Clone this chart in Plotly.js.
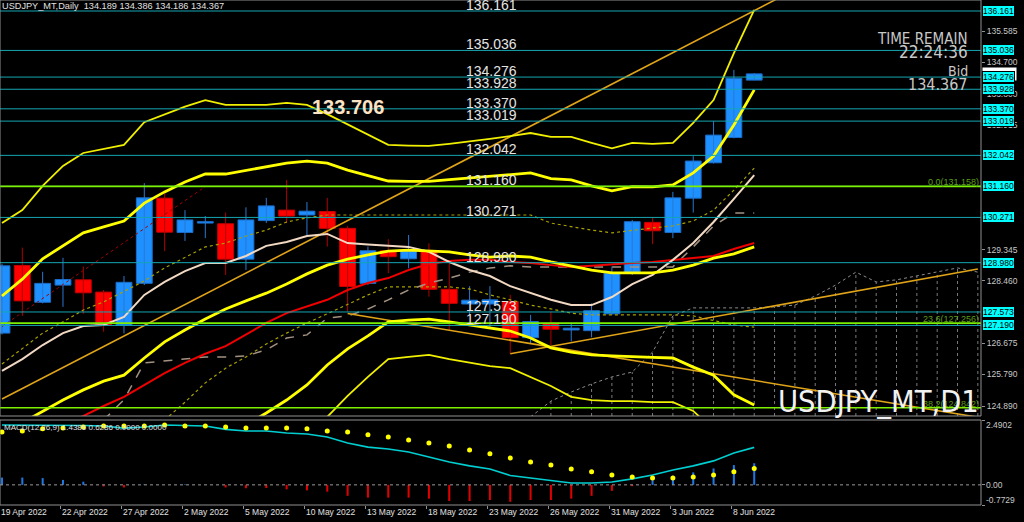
<!DOCTYPE html>
<html><head><meta charset="utf-8">
<script src="https://cdn.plot.ly/plotly-3.0.1.min.js"></script>
<style>html,body{margin:0;padding:0;background:#000;overflow:hidden}#chart{width:1024px;height:522px}</style>
</head><body><div id="chart"></div>
<script>
// ---------- DATA ----------
const days = ['19 Apr','20 Apr','21 Apr','22 Apr','25 Apr','26 Apr','27 Apr','28 Apr','29 Apr',
 '2 May','3 May','4 May','5 May','6 May','9 May','10 May','11 May','12 May','13 May','16 May','17 May',
 '18 May','19 May','20 May','23 May','24 May','25 May','26 May','27 May','30 May','31 May',
 '1 Jun','2 Jun','3 Jun','6 Jun','7 Jun','8 Jun','9 Jun'];
const futureDays = ['10 Jun','13 Jun','14 Jun','15 Jun','16 Jun','17 Jun','20 Jun','21 Jun','22 Jun','23 Jun','24 Jun'];

const open  = [126.97,128.90,127.85,128.34,128.49,128.14,127.20,128.39,130.82,129.84,130.11,130.09,129.08,130.18,130.48,130.34,130.44,129.96,128.39,129.32,129.09,129.32,128.22,127.80,127.80,127.87,126.84,127.25,127.06,127.04,127.52,128.68,130.13,129.84,130.82,131.83,132.55,134.189];
const high  = [128.95,129.41,128.72,129.12,128.87,128.20,128.60,131.25,130.96,130.48,130.31,130.41,130.56,130.83,131.34,130.71,130.83,130.03,129.44,129.65,129.77,129.53,128.96,128.31,128.31,128.06,127.49,127.58,127.25,127.82,128.87,130.20,130.25,131.00,132.02,133.02,134.48,134.386];
const low   = [126.93,127.46,127.82,127.72,127.52,127.01,126.96,128.34,129.31,129.60,129.68,128.63,128.77,130.11,130.11,129.77,129.44,127.58,128.34,128.68,128.82,128.01,127.06,127.49,127.12,126.38,126.68,126.63,126.73,126.85,127.49,128.63,129.51,129.68,130.41,131.81,132.53,134.186];
const close = [128.89,127.89,128.39,128.50,128.12,127.20,128.42,130.83,129.85,130.20,130.15,129.08,130.20,130.60,130.31,130.45,129.96,128.30,129.32,129.15,129.32,128.22,127.82,127.91,127.92,126.84,127.30,127.08,127.11,127.61,128.68,130.15,129.89,130.83,131.88,132.62,134.24,134.367];

const bandUp2 = [130.11,130.48,131.17,131.74,132.11,132.22,132.34,132.99,133.22,133.43,133.62,133.48,133.48,133.48,133.54,133.48,133.22,132.93,132.62,132.34,132.32,132.31,132.37,132.43,132.51,132.59,132.68,132.57,132.57,132.40,132.24,132.40,132.37,132.40,132.97,133.62,134.96,136.19];
const bandUp1 = [128.03,128.51,129.09,129.46,129.83,130.00,130.17,130.68,131.00,131.28,131.51,131.51,131.62,131.72,131.82,131.88,131.82,131.62,131.47,131.31,131.30,131.30,131.35,131.40,131.45,131.51,131.54,131.38,131.34,131.17,131.03,131.15,131.14,131.20,131.54,132.02,132.91,133.91];
const bandMid = [124.09,124.41,124.72,125.06,125.35,125.60,125.77,126.26,126.72,127.06,127.37,127.66,127.89,128.11,128.37,128.66,128.91,129.08,129.20,129.31,129.34,129.31,129.29,129.20,129.14,129.17,129.14,129.00,128.89,128.77,128.69,128.69,128.69,128.77,128.91,129.11,129.23,129.43];
const bandDn1 = [null,null,null,null,null,null,null,null,null,null,null,null,124.35,124.69,125.06,125.49,126.06,126.52,126.89,127.29,127.34,127.37,127.29,127.20,127.12,127.03,126.83,126.55,126.43,126.35,126.32,126.29,126.28,126.26,126.00,125.77,125.21,124.92];
const bandDn2 = [null,null,null,null,null,null,null,null,null,null,null,null,null,null,null,123.98,124.58,125.18,125.72,126.23,126.29,126.35,126.23,126.12,126.03,125.97,125.72,125.46,125.15,125.06,125.03,125.03,125.00,125.00,124.75,124.21,123.78,123.49];

const wheatLine = [125.89,126.23,126.63,126.97,127.17,127.20,127.43,128.06,128.43,128.74,128.97,128.97,129.17,129.46,129.57,129.74,129.80,129.54,129.50,129.47,129.43,129.29,129.00,128.77,128.60,128.31,128.11,127.92,127.77,127.77,128.00,128.37,128.63,129.06,129.54,130.14,130.80,131.48];
const redLine = [null,null,null,124.32,124.61,124.89,125.15,125.49,125.83,126.12,126.38,126.60,126.92,127.26,127.54,127.74,127.92,128.20,128.40,128.54,128.77,128.94,129.03,129.06,129.06,129.00,128.97,128.91,128.86,128.89,128.94,128.97,129.00,129.06,129.11,129.17,129.37,129.54];
const dashLine = [null,null,null,null,null,124.49,125.07,126.12,126.18,126.24,126.29,126.29,126.32,126.49,126.83,126.92,127.40,127.46,127.66,127.92,128.20,128.40,128.54,128.71,128.83,128.89,128.86,128.86,128.86,128.86,128.86,128.86,128.86,128.86,129.43,130.03,130.40,130.40];
const dotUpper = [126.09,126.52,126.97,127.29,127.63,127.86,128.17,128.46,128.83,129.14,129.43,129.54,129.74,129.91,130.14,130.26,130.34,130.34,130.34,130.34,130.34,130.34,130.34,130.34,130.34,130.34,130.34,130.11,130.00,129.91,129.83,129.91,129.97,130.03,130.17,130.48,131.05,131.68];
const dotLower = [null,null,null,null,null,null,null,null,124.49,125.00,125.55,125.97,126.29,126.66,126.97,127.26,127.52,127.80,128.06,128.29,128.29,128.29,128.29,128.23,128.06,127.92,127.77,127.66,127.54,127.49,127.49,127.49,127.49,127.49,127.46,127.32,127.20,127.14];
// cloud edge projected into the future (all days incl. future)
const cloudEdge = [null,null,null,null,null,null,null,null,null,null,null,null,null,null,null,null,null,null,null,null,null,null,null,null,null,null,
 124.58,125.03,125.29,125.52,125.72,125.86,126.43,127.46,127.69,127.69,127.69,127.69,127.72,127.77,128.03,128.34,128.71,128.43,128.49,128.60,128.71,128.83,128.71];

// drawn trendlines: [day, price] end points
const trendUp   = [['19 Apr',125.09],['13 Jun',136.77]];
const trendDown = [['12 May',127.53],['24 Jun',124.57]];
const trendLow  = [['24 May',126.38],['24 Jun',128.80]];
const trendRed  = [['19 Apr',127.16],['3 May',131.15]];

const levels = [136.161,135.036,134.276,133.928,133.370,133.019,132.042,131.160,130.271,128.980,127.573,127.190];
const fibLevels = [131.158,127.256,124.842];
const fibNames = ['0.0','23.6','38.2'];
const axisTicks = [124.890,125.790,126.675,128.460,129.345,132.915,133.800,134.700,135.585];
const bidPrice = 134.367;
const peakLabel = {text:'133.706', day:'12 May', price:133.41};

const macdMain = [2.30,2.30,2.30,2.28,2.28,2.26,2.18,2.22,2.30,2.28,2.26,2.13,2.07,2.07,1.99,1.95,1.84,1.61,1.45,1.38,1.26,1.07,0.88,0.73,0.61,0.36,0.26,0.15,0.07,0.07,0.11,0.23,0.38,0.57,0.73,0.92,1.22,1.44];
const macdSignal = [2.03,2.07,2.15,2.18,2.22,2.26,2.26,2.26,2.30,2.26,2.26,2.22,2.18,2.18,2.18,2.15,2.07,2.03,1.92,1.84,1.72,1.61,1.49,1.34,1.19,1.03,0.88,0.76,0.61,0.50,0.38,0.30,0.26,0.26,0.30,0.38,0.50,0.63];
const macdHist = [0.28,0.28,0.26,0.19,0.12,-0.06,-0.10,0.02,0.00,0.02,0.00,-0.10,-0.13,-0.12,-0.17,-0.21,-0.26,-0.42,-0.49,-0.49,-0.49,-0.53,-0.62,-0.62,-0.58,-0.65,-0.58,-0.58,-0.53,-0.42,-0.23,-0.05,0.18,0.35,0.48,0.63,0.76,0.83];
const macdScale = [2.4902, 0.00, -0.7729];
const macdScaleText = ['2.4902','0.00','-0.7729'];

const dateLabels = ['19 Apr 2022','22 Apr 2022','27 Apr 2022','2 May 2022','5 May 2022','10 May 2022','13 May 2022','18 May 2022','23 May 2022','26 May 2022','31 May 2022','3 Jun 2022','8 Jun 2022'];
const headerText = 'USDJPY_MT,Daily  134.189 134.386 134.186 134.367';
const macdText = 'MACD(12,26,9) 1.4386 0.6286 0.0000 0.0000';
const infoLines = ['TIME REMAIN','22:24:36','Bid','134.367'];
const watermark = 'USDJPY_MT,D1';

// ---------- BUILD ----------
const allDays = days.concat(futureDays);
const xOf = d => allDays.indexOf(d);
const xb = days.map(xOf);
const xAll = allDays.map(xOf);

const xRange = [-0.098, 48.155];
const yMain = [124.605, 136.475];
const yMacd = [-0.7729, 2.4902];
const mainBottom = 89/505;
const macdTop = 85/505;

const BLUE = '#1E90FF', RED = '#FF0000';
const bull = xb.map(i => close[i] >= open[i]);

function wicks(up){
  const X=[],Y=[];
  xb.forEach(i=>{ if(bull[i]===up){X.push(i,i,null);Y.push(low[i],high[i],null);} });
  return {type:'scatter',mode:'lines',x:X,y:Y,xaxis:'x',yaxis:'y',line:{color:up?'#2A78D0':'#B00000',width:1},hoverinfo:'skip'};
}
const bodies = {type:'bar',x:xb,xaxis:'x',yaxis:'y',
  base:xb.map(i=>Math.min(open[i],close[i])),
  y:xb.map(i=>Math.max(Math.abs(close[i]-open[i]),0.03)),
  width:0.78,
  marker:{color:xb.map(i=>bull[i]?BLUE:RED),line:{color:xb.map(i=>bull[i]?'#1C6CC8':'#C80000'),width:1}},
  hoverinfo:'skip'};

function line(y,color,width,dash,xs){
  return {type:'scatter',mode:'lines',x:xs||xb,y:y,xaxis:'x',yaxis:'y',connectgaps:false,
    line:{color:color,width:width,dash:dash||'solid'},hoverinfo:'skip'};
}
function trend(t,color,width,dash){
  return {type:'scatter',mode:'lines',x:t.map(p=>xOf(p[0])),y:t.map(p=>p[1]),xaxis:'x',yaxis:'y',
    line:{color:color,width:width,dash:dash||'solid'},hoverinfo:'skip'};
}

const traces = [
  wicks(true), wicks(false), bodies,
  line(cloudEdge,'#8C8C8C',1,'dot',xAll),
  line(dotLower,'#A8A000',1.2,'dot'),
  line(dotUpper,'#A8A000',1.2,'dot'),
  line(dashLine,'#A39282',1.5,'dash'),
  trend(trendRed,'#A00000',1,'dot'),
  trend(trendUp,'#E0A418',1.6),
  trend(trendDown,'#E0A418',1.6),
  trend(trendLow,'#E0A418',1.6),
  line(redLine,'#F00000',2),
  line(wheatLine,'#F2D9C4',2),
  line(bandDn2,'#F0F000',1.8),
  line(bandUp2,'#F0F000',1.8),
  line(bandDn1,'#FFFF00',2.8),
  line(bandUp1,'#FFFF00',2.8),
  line(bandMid,'#FFFF00',2.8),
  // MACD panel
  {type:'bar',x:xb,y:macdHist,xaxis:'x2',yaxis:'y2',width:0.1,
    marker:{color:macdHist.map(v=>v>=0?'#1E78E0':'#E00000'),line:{width:0}},hoverinfo:'skip'},
  {type:'scatter',mode:'lines',x:xb,y:macdMain,xaxis:'x2',yaxis:'y2',line:{color:'#00CED1',width:1.6},hoverinfo:'skip'},
  {type:'scatter',mode:'markers',x:xb,y:macdSignal,xaxis:'x2',yaxis:'y2',marker:{color:'#FFFF00',size:5},hoverinfo:'skip'}
];

const shapes = [];
// cloud hatch
xAll.forEach(i=>{ if(cloudEdge[i]!=null) shapes.push({type:'line',xref:'x',yref:'y',x0:i,x1:i,y0:yMain[0],y1:cloudEdge[i],
  line:{color:'#7A7A7A',width:1,dash:'dot'},layer:'below'}); });
levels.forEach(v=>shapes.push({type:'line',xref:'paper',yref:'y',x0:0,x1:1,y0:v,y1:v,line:{color:'#14A6B2',width:1},layer:'above'}));
fibLevels.forEach(v=>shapes.push({type:'line',xref:'paper',yref:'y',x0:0,x1:1,y0:v,y1:v,line:{color:'#7CF000',width:1.6},layer:'above'}));
shapes.push({type:'line',xref:'paper',yref:'y2',x0:0,x1:1,y0:0,y1:0,line:{color:'#9A9A9A',width:1,dash:'dot'},layer:'above'});
shapes.push({type:'rect',xref:'paper',yref:'paper',x0:0,x1:1,y0:mainBottom,y1:1,line:{color:'#909090',width:1},layer:'above'});
shapes.push({type:'rect',xref:'paper',yref:'paper',x0:0,x1:1,y0:0,y1:macdTop,line:{color:'#909090',width:1},layer:'above'});

const F = 'Liberation Sans, Arial, sans-serif';
const NARROW = 'Liberation Sans Narrow, Arial Narrow, DejaVu Sans Condensed, Liberation Sans, sans-serif';
const ann = [];
// central line labels
levels.forEach(v=>ann.push({x:xOf('23 May'),xref:'x',y:v,yref:'y',xanchor:'center',yanchor:'bottom',yshift:-3,xshift:2,
  text:v.toFixed(3),showarrow:false,font:{family:F,size:14,color:'#E4E4E4'},borderpad:0}));
// bid box (under)
ann.push({x:1,xref:'paper',y:bidPrice,yref:'y',xanchor:'left',xshift:1,yanchor:'middle',text:bidPrice.toFixed(3),showarrow:false,
  bgcolor:'#FFFFFF',font:{family:F,size:8.5,color:'#000'},borderpad:1});
// right cyan boxes
levels.forEach(v=>ann.push({x:1,xref:'paper',y:v,yref:'y',xanchor:'left',xshift:1,yanchor:'middle',text:v.toFixed(3),showarrow:false,
  bgcolor:'#00FFFF',bordercolor:'#000',borderwidth:1,font:{family:F,size:8.5,color:'#000'},borderpad:0}));
// fib labels
fibLevels.forEach((v,k)=>ann.push({x:1,xref:'paper',y:v,yref:'y',xanchor:'right',yanchor:'bottom',xshift:-1,yshift:-2,
  text:fibNames[k]+'('+v.toFixed(3)+')',showarrow:false,font:{family:F,size:9,color:'#5E9E18'},borderpad:0}));
// peak label
ann.push({x:xOf(peakLabel.day),xref:'x',y:peakLabel.price,yref:'y',text:'<b>'+peakLabel.text+'</b>',showarrow:false,
  font:{family:F,size:20,color:'#FBE3C6'},xanchor:'center',yanchor:'middle'});
// header & macd legend
ann.push({x:0,xref:'paper',y:1,yref:'paper',xanchor:'left',yanchor:'top',xshift:1,yshift:0,text:headerText,showarrow:false,
  font:{family:F,size:9.2,color:'#E0E0E0'},borderpad:0});
ann.push({x:0,xref:'paper',y:macdTop,yref:'paper',xanchor:'left',yanchor:'top',xshift:2,yshift:-1,text:macdText,showarrow:false,
  font:{family:F,size:8,color:'#E0E0E0'},borderpad:1});
// info block
const infoY = [39,52,71,84], infoS = [15,17,14,16];
infoLines.forEach((t,k)=>ann.push({x:969/981,xref:'paper',y:1-infoY[k]/505,yref:'paper',xanchor:'right',yanchor:'middle',
  text:t,showarrow:false,font:{family:NARROW,size:infoS[k],color:'#C8C8C8'},borderpad:0}));
// watermark
ann.push({x:980/981,xref:'paper',y:1-401/505,yref:'paper',xanchor:'right',yanchor:'middle',text:watermark,showarrow:false,
  font:{family:NARROW,size:30.5,color:'#F2F2F2'},borderpad:0});
// date labels
dateLabels.forEach(t=>ann.push({x:xOf(t.replace(' 2022','')),xref:'x2',y:0,yref:'paper',xanchor:'left',yanchor:'top',xshift:-2,yshift:-1,
  text:t,showarrow:false,font:{family:F,size:8.5,color:'#E0E0E0'},borderpad:0}));
// macd scale labels
const macdShift = [-5,0,5];
macdScale.forEach((v,k)=>ann.push({x:1,xref:'paper',y:v,yref:'y2',xanchor:'left',xshift:4,yshift:macdShift[k],yanchor:'middle',
  text:macdScaleText[k],showarrow:false,font:{family:F,size:8.5,color:'#C8C8C8'},borderpad:0}));

const layout = {
  width:1024,height:522,paper_bgcolor:'#000',plot_bgcolor:'#000',
  margin:{l:0,r:43,t:0,b:17},showlegend:false,barmode:'overlay',hovermode:false,
  font:{family:F,color:'#C8C8C8'},
  xaxis:{domain:[0,1],range:xRange,anchor:'y',showgrid:false,zeroline:false,showticklabels:false,ticks:'',showline:false},
  yaxis:{domain:[mainBottom,1],range:yMain,anchor:'x',side:'right',showgrid:false,zeroline:false,
    tickvals:axisTicks,ticktext:axisTicks.map(v=>v.toFixed(3)),ticks:'outside',ticklen:3,tickcolor:'#909090',
    tickfont:{family:F,size:8.5,color:'#C8C8C8'}},
  xaxis2:{domain:[0,1],range:xRange,anchor:'y2',showgrid:false,zeroline:false,showticklabels:false,
    tickvals:dateLabels.map(t=>xOf(t.replace(' 2022',''))-0.1),ticks:'outside',ticklen:3,tickcolor:'#909090'},
  yaxis2:{domain:[0,macdTop],range:yMacd,anchor:'x2',side:'right',showgrid:false,zeroline:false,showticklabels:false,
    tickvals:macdScale,ticks:'outside',ticklen:3,tickcolor:'#909090'},
  shapes:shapes,annotations:ann
};
Plotly.newPlot('chart',traces,layout,{staticPlot:true,displayModeBar:false});
</script></body></html>
